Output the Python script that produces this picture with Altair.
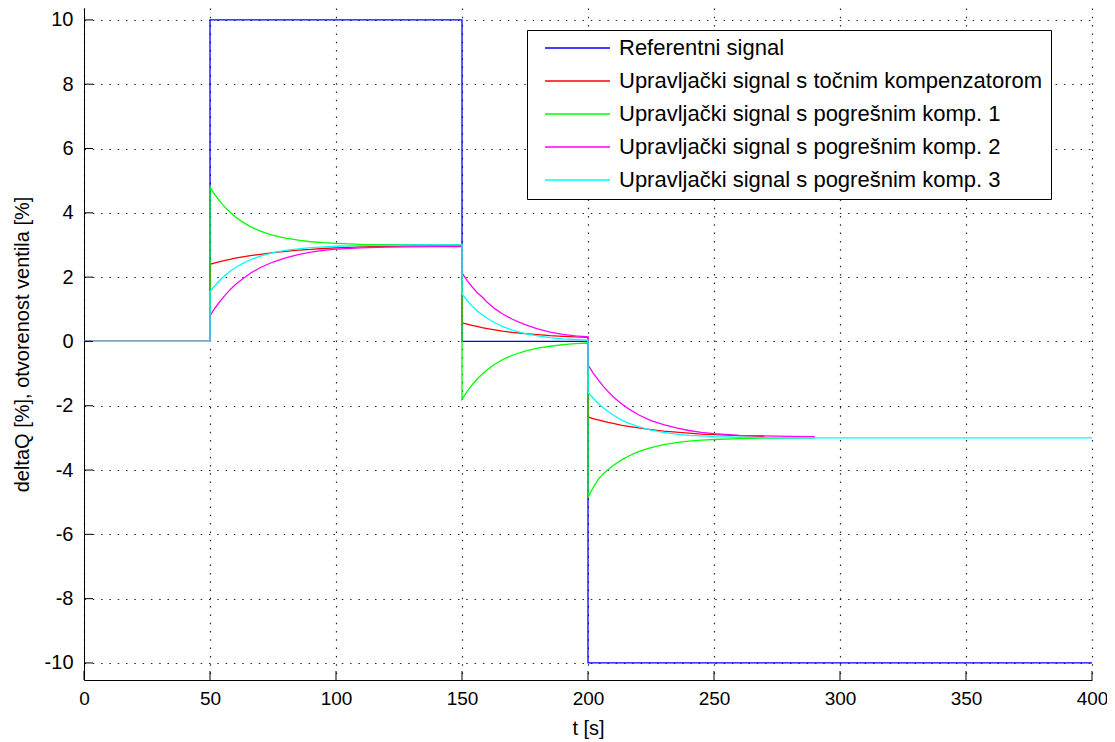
import altair as alt
import pandas as pd

# ---------------- data ----------------
SERIES = [
    "Referentni signal",
    "Upravljački signal s točnim kompenzatorom",
    "Upravljački signal s pogrešnim komp. 1",
    "Upravljački signal s pogrešnim komp. 2",
    "Upravljački signal s pogrešnim komp. 3",
]
COLORS = ["#0000ff", "#ff0000", "#00ff00", "#ff00ff", "#00ffff"]

X_TICKS = [0, 50, 100, 150, 200, 250, 300, 350, 400]
Y_TICKS = [-10, -8, -6, -4, -2, 0, 2, 4, 6, 8, 10]

# reference signal
REF_T = [0, 50, 50, 150, 150, 200, 200, 400]
REF_V = [0, 0, 10, 10, 0, 0, -10, -10]

# sample times of the three transients
T_START = [0, 50]
T_SEG1 = [50, 52, 54, 56, 58, 60, 63, 66, 70, 75, 80, 85, 90, 95, 100, 110, 120, 130, 140, 150]
T_SEG2 = [150, 152, 154, 156, 158, 160, 163, 166, 170, 175, 180, 185, 190, 195, 200]
T_SEG3 = [200, 202, 204, 206, 208, 210, 213, 216, 220, 225, 230, 235, 240, 245, 250, 260, 270, 280, 290, 300]

# exact compensator (red)
RED_1 = [2.40, 2.44, 2.48, 2.52, 2.55, 2.59, 2.63, 2.67, 2.71, 2.76, 2.80, 2.84, 2.86, 2.89, 2.91, 2.94, 2.96, 2.97, 2.98, 2.99]
RED_2 = [0.58, 0.54, 0.50, 0.47, 0.43, 0.40, 0.36, 0.32, 0.28, 0.24, 0.21, 0.18, 0.16, 0.14, 0.13]
RED_3 = [-2.35, -2.40, -2.44, -2.48, -2.52, -2.55, -2.60, -2.64, -2.69, -2.74, -2.79, -2.82, -2.85, -2.88, -2.90, -2.93, -2.95]

# wrong compensator 1 (green)
GRN_1 = [4.80, 4.56, 4.35, 4.17, 4.02, 3.88, 3.71, 3.57, 3.43, 3.30, 3.21, 3.15, 3.10, 3.07, 3.05, 3.02, 3.01, 3.01, 3.00, 3.00]
GRN_2 = [-1.80, -1.56, -1.35, -1.17, -1.02, -0.88, -0.71, -0.57, -0.43, -0.30, -0.21, -0.15, -0.10, -0.07, -0.05]
GRN_3 = [-4.85, -4.55, -4.30, -4.12, -3.98, -3.86, -3.70, -3.57, -3.43, -3.30, -3.21, -3.15, -3.10, -3.07, -3.05, -3.02, -3.01, -3.01, -3.00]

# wrong compensator 2 (magenta)
MAG_1 = [0.80, 1.04, 1.25, 1.44, 1.61, 1.76, 1.95, 2.12, 2.30, 2.47, 2.60, 2.70, 2.78, 2.83, 2.87, 2.91, 2.93, 2.94, 2.95, 2.95]
MAG_2 = [2.13, 1.90, 1.70, 1.52, 1.38, 1.22, 1.02, 0.86, 0.69, 0.52, 0.39, 0.29, 0.22, 0.17, 0.14]
MAG_3 = [-0.73, -0.98, -1.19, -1.39, -1.56, -1.72, -1.92, -2.09, -2.28, -2.46, -2.59, -2.69, -2.77, -2.83, -2.87, -2.92, -2.94, -2.95, -2.96]

# wrong compensator 3 (cyan)
CYN_1 = [1.55, 1.74, 1.91, 2.06, 2.18, 2.29, 2.43, 2.54, 2.65, 2.76, 2.83, 2.88, 2.92, 2.94, 2.96, 2.98, 2.99, 3.00, 3.00, 3.00]
CYN_2 = [1.48, 1.28, 1.10, 0.95, 0.83, 0.72, 0.58, 0.47, 0.35, 0.24, 0.17, 0.12, 0.08, 0.06, 0.04]
CYN_3 = [-1.58, -1.76, -1.92, -2.06, -2.18, -2.29, -2.43, -2.54, -2.65, -2.76, -2.83, -2.88, -2.92, -2.94, -2.96, -2.98, -2.99, -3.00, -3.00, -3.00]
CYN_END_T = [400]
CYN_END_V = [-3.00]

# ---------------- build table ----------------
rows = []


def add(name, times, values):
    for i, (t, v) in enumerate(zip(times, values)):
        rows.append({"series": name, "t": t, "v": v, "i": i})


add(SERIES[0], REF_T, REF_V)


def comp(name, v1, v2, v3, extra_t=None, extra_v=None):
    times = T_START + T_SEG1 + T_SEG2 + T_SEG3[: len(v3)]
    vals = [0, 0] + v1 + v2 + v3
    if extra_t:
        times = times + extra_t
        vals = vals + extra_v
    add(name, times, vals)


comp(SERIES[1], RED_1, RED_2, RED_3)
comp(SERIES[2], GRN_1, GRN_2, GRN_3)
comp(SERIES[3], MAG_1, MAG_2, MAG_3)
comp(SERIES[4], CYN_1, CYN_2, CYN_3, CYN_END_T, CYN_END_V)

df = pd.DataFrame(rows)
xt = pd.DataFrame({"t": X_TICKS})
yt = pd.DataFrame({"v": Y_TICKS})

# ---------------- chart ----------------
W, H = 1008, 672
FONT = "Liberation Sans"

xscale = alt.Scale(domain=[0, 400], nice=False, zero=False)
yscale = alt.Scale(domain=[-10.53, 10.37], nice=False, zero=False)

xaxis = alt.Axis(
    values=X_TICKS, title="t [s]", ticks=False, labelPadding=9,
    labelExpr="'' + datum.value",
    labelFontSize=19, labelFont=FONT, labelColor="black",
    titleFontSize=20, titleFont=FONT, titleFontWeight="normal", titleColor="black",
    titlePadding=10, domainColor="black", domainWidth=1,
    grid=True, gridColor="black", gridDash=[1.5, 6.8], gridWidth=1.2, gridOpacity=0.85,
    labelFlush=False,
)
yaxis = alt.Axis(
    values=Y_TICKS, title="deltaQ [%], otvorenost ventila [%]", ticks=False, labelPadding=11,
    labelExpr="'' + datum.value",
    labelFontSize=20, labelFont=FONT, labelColor="black",
    titleFontSize=20, titleFont=FONT, titleFontWeight="normal", titleColor="black",
    titlePadding=12, domainColor="black", domainWidth=1,
    grid=True, gridColor="black", gridDash=[1.5, 6.8], gridWidth=1.2, gridOpacity=0.85,
    labelFlush=False,
)

color = alt.Color(
    "series:N",
    scale=alt.Scale(domain=SERIES, range=COLORS),
    legend=alt.Legend(
        orient="none", legendX=443, legendY=22, title=None,
        symbolType="stroke", symbolSize=4225, symbolStrokeWidth=1.5,
        clipHeight=20, rowPadding=11, padding=8, symbolOffset=9, labelOffset=8,
        labelFontSize=22, labelFont=FONT, labelColor="black", labelLimit=700,
        strokeColor="black", fillColor="white",
    ),
)

layers = []
for name in SERIES:
    layers.append(
        alt.Chart(df)
        .transform_filter(alt.datum.series == name)
        .mark_line(strokeWidth=1.3, interpolate="linear")
        .encode(
            x=alt.X("t:Q", scale=xscale, axis=xaxis),
            y=alt.Y("v:Q", scale=yscale, axis=yaxis),
            color=color,
            order=alt.Order("i:Q"),
        )
    )

xticks = alt.Chart(xt).mark_rule(color="black", strokeWidth=1).encode(
    x=alt.X("t:Q", scale=xscale, axis=xaxis),
    y=alt.value(H), y2=alt.value(H - 9),
)
yticks = alt.Chart(yt).mark_rule(color="black", strokeWidth=1).encode(
    y=alt.Y("v:Q", scale=yscale, axis=yaxis),
    x=alt.value(0), x2=alt.value(9),
)

chart = (
    alt.layer(*layers, xticks, yticks)
    .properties(
        width=W, height=H,
        autosize=alt.AutoSizeParams(type="none"),
        padding={"left": 76, "top": 0, "right": 15, "bottom": 60},
        background="white",
    )
    .configure_view(stroke=None)
)

chart.save("out.html", embed_options={"renderer": "svg", "actions": False})
